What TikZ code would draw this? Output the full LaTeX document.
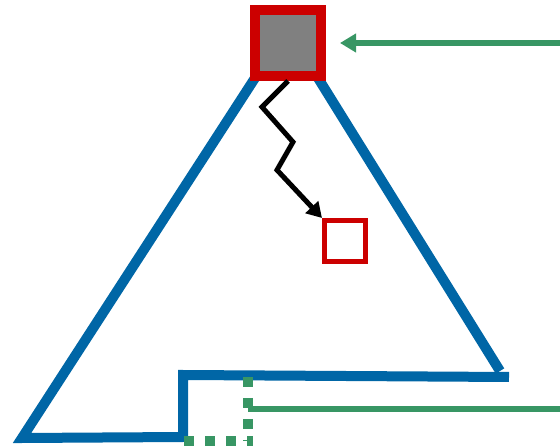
\documentclass[tikz,border=0pt]{standalone}
\usepackage{xcolor}
\usetikzlibrary{arrows.meta,positioning}
\definecolor{tblue}{RGB}{0,102,166}
\definecolor{tred}{RGB}{204,0,0}
\definecolor{tgreen}{RGB}{56,150,100}
\definecolor{tgray}{RGB}{128,128,128}

\begin{document}
\begin{tikzpicture}[x=1pt, y=-1pt]
\tikzstyle{bigbox} = [rectangle, draw=tred, fill=tgray, line width=10pt, minimum size=66pt, inner sep=0pt]
\tikzstyle{smallbox} = [rectangle, draw=tred, fill=white, line width=5pt, minimum size=41pt, inner sep=0pt]
\tikzstyle{wall} = [draw=tblue, line width=10pt, line join=miter]
\tikzstyle{feed} = [draw=tgreen, line width=6pt]
\tikzstyle{dots} = [draw=tgreen, line width=10pt, dash pattern=on 10pt off 11pt]
\tikzstyle{zig} = [draw=black, line width=5pt, -{Triangle[length=15pt,width=17pt]}]
\useasboundingbox (0,0) rectangle (560,446);

% triangle outline
\draw[wall] (255,78) -- (22,438) -- (183,437) -- (183,375) -- (509,377);
\draw[wall] (318,78) -- (500,371);

\node (source) [bigbox] at (288,43) {};
\node (target) [smallbox] at (345,241) {};
\coordinate (inlet) at (562,43);
\coordinate (outlet) at (562,409);
\coordinate (gapA) at (248,377);
\coordinate (gapB) at (248,441);
\coordinate (gapC) at (184,441);

\draw[zig] (source.south) -- (262,107) -- (293,142) -- (277,170) -- (target.north west);
\draw[feed, -{Triangle[length=16pt,width=18pt]}, shorten >=14pt] (inlet) -- (source.east);
\draw[feed] (outlet) -- (gapA |- outlet);
\draw[dots] (gapA) -- (gapB);
\draw[dots] (gapC) -- ([xshift=5pt]gapB);
\end{tikzpicture}
\end{document}
